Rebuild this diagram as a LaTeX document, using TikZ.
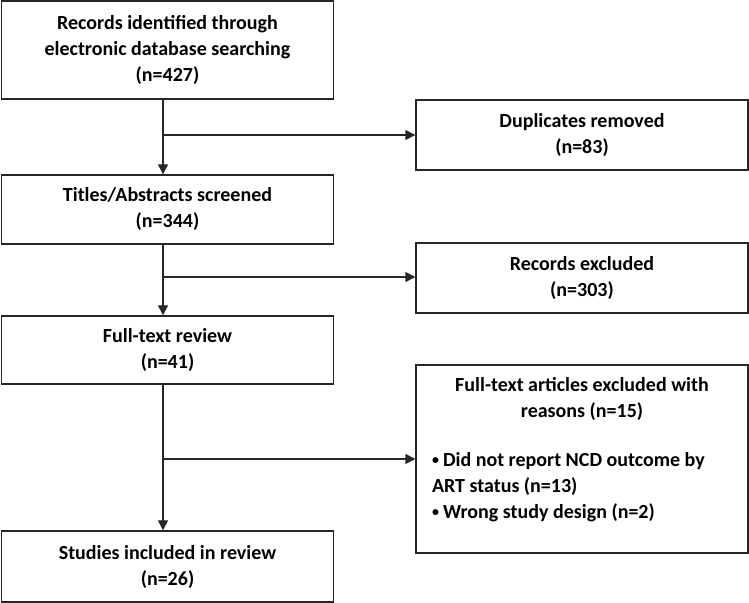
\documentclass[tikz,border=0pt]{standalone}
\usepackage{fontspec}
\setmainfont{Carlito}
\usetikzlibrary{arrows.meta, positioning}

\begin{document}
\begin{tikzpicture}[x=0.5pt, y=-0.5pt,
    box/.style={draw=black!85, line width=0.7pt, minimum width=166pt, align=center,
      font=\bfseries\fontsize{10pt}{13pt}\selectfont},
    flow/.style={-{Triangle[length=5pt,width=5pt]}, draw=black!85, line width=0.7pt}]
  \useasboundingbox (0,0) rectangle (749,603);

  % Main flow
  \node[box, minimum height=49pt] (rec) at (167.5,50) {Records identified through\\electronic database searching\\(n=427)};
  \node[box, minimum height=34.5pt] (tit) at (167.5,209.5) {Titles/Abstracts screened\\(n=344)};
  \node[box, minimum height=34pt] (full) at (167.5,350) {Full-text review\\(n=41)};
  \node[box, minimum height=35.5pt] (inc) at (167.5,566.5) {Studies included in review\\(n=26)};

  % Exclusions
  \node[box, minimum height=35pt] (dup) at (582,135) {Duplicates removed\\(n=83)};
  \node[box, minimum height=35pt] (exc) at (582,278) {Records excluded\\(n=303)};
  \node[box, inner xsep=8pt, inner ysep=4pt] (ftx) at (582,459) {%
    \begin{minipage}[t][86pt][t]{150pt}
      \vspace*{2pt}
      \centering Full-text articles excluded with\\reasons (n=15)\par
      \vspace{11.5pt}
      \raggedright
      \hangindent=5.5pt\hangafter=1
      \makebox[5.5pt][l]{\raisebox{0.9pt}{\scalebox{0.7}{\textbullet}}}Did not report NCD outcome by\\ART status (n=13)\par
      \makebox[5.5pt][l]{\raisebox{0.9pt}{\scalebox{0.7}{\textbullet}}}Wrong study design (n=2)\par
    \end{minipage}};

  % Branch points
  \coordinate (s1) at (163,135);
  \coordinate (s2) at (163,277);
  \coordinate (s3) at (163,459);

  % Connectors
  \draw[flow] (rec.south -| s1) -- (tit.north -| s1);
  \draw[flow] (s1) -- (s1 -| dup.west);
  \draw[flow] (tit.south -| s2) -- (full.north -| s2);
  \draw[flow] (s2) -- (s2 -| exc.west);
  \draw[flow] (full.south -| s3) -- (inc.north -| s3);
  \draw[flow] (s3) -- (s3 -| ftx.west);
\end{tikzpicture}
\end{document}
